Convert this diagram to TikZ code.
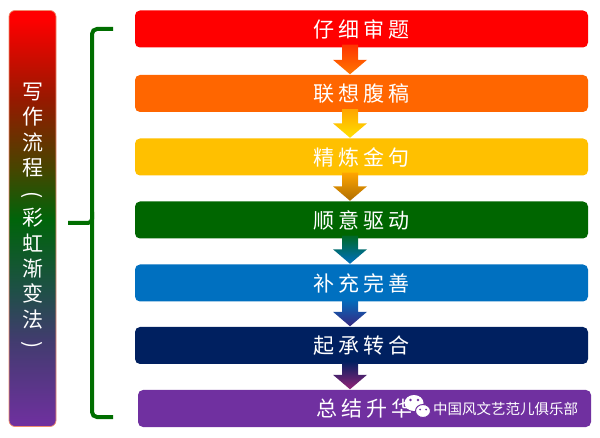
\documentclass[tikz,border=0pt]{standalone}
\usepackage{fontspec}
\setmainfont{Noto Sans CJK SC}
\usetikzlibrary{calc}
\definecolor{cRed}{RGB}{255,0,0}
\definecolor{cOrange}{RGB}{255,102,0}
\definecolor{cYellow}{RGB}{255,192,0}
\definecolor{cGreen}{RGB}{0,102,0}
\definecolor{cBlue}{RGB}{0,112,192}
\definecolor{cNavy}{RGB}{0,32,96}
\definecolor{cPurple}{RGB}{112,48,160}
\definecolor{brGreen}{RGB}{0,110,0}
\definecolor{barA}{RGB}{150,25,0}
\definecolor{barB}{RGB}{70,70,0}
\definecolor{barC}{RGB}{0,100,10}
\definecolor{barD}{RGB}{30,80,70}
\definecolor{barE}{RGB}{65,60,110}
\definecolor{barEdge}{RGB}{240,140,110}
\definecolor{arGold}{RGB}{255,165,0}
\definecolor{arBrown}{RGB}{175,110,0}
\definecolor{arYel}{RGB}{255,225,0}
\pgfdeclareverticalshading{rainbowbar}{100bp}{color(0bp)=(cPurple); color(25bp)=(cPurple); color(35.5bp)=(barE); color(41.5bp)=(barD); color(49.9bp)=(barC); color(55.9bp)=(barB); color(64.3bp)=(barA); color(74bp)=(cRed); color(100bp)=(cRed)}
\tikzset{
  stepbox/.style={rectangle, rounded corners=5pt, minimum width=453pt, minimum height=37pt, inner sep=0pt, text=white,
    font=\fontsize{21pt}{24pt}\selectfont\addfontfeature{LetterSpace=20}},
  bracketline/.style={draw=brGreen, line width=4pt},
  vparen/.style={rotate=-90, inner sep=0pt, text=white, font=\fontsize{21pt}{24pt}\selectfont},
}
\newcommand\flowarrow[4]{%
  \shade[top color=#3, bottom color=#4] let \p1=(#1.south), \p2=(#2.north) in
  (342pt,\y1+3pt) -- (358pt,\y1+3pt) -- (358pt,\y2+15pt) -- (367pt,\y2+15pt) -- (350pt,\y2+0.5pt)
  -- (333pt,\y2+15pt) -- (342pt,\y2+15pt) -- cycle;}
\begin{document}
\begin{tikzpicture}[x=1pt,y=-1pt]
\useasboundingbox[fill=white] (0,0) rectangle (600,438);
% left bar
\node[shade, shading=rainbowbar, draw=barEdge, line width=0.7pt, rounded corners=6pt,
  minimum width=47pt, minimum height=416pt, inner sep=0pt, text=white, align=center,
  font=\fontsize{21pt}{25.3pt}\selectfont] (bar) at (32.5,218.5)
  {写\\作\\流\\程\\\phantom{彩}\\彩\\虹\\渐\\变\\法\\\phantom{彩}};
\node[vparen] (lp) at (32.5,195) {(};
\node[vparen] (rp) at (32.5,345) {)};
% bracket
\draw[bracketline, rounded corners=5pt] (113,29) -- (92,29) -- (92,417) -- (113,417);
\draw[bracketline, rounded corners=4pt] (92,212) -- (92,223) -- (68,223);
% boxes
\node[stepbox, fill=cRed]    (b1) at (361.5,29)    {仔细审题};
\node[stepbox, fill=cOrange] (b2) at (361.5,93.5)  {联想腹稿};
\node[stepbox, fill=cYellow] (b3) at (361.5,157)   {精炼金句};
\node[stepbox, fill=cGreen]  (b4) at (361.5,220)   {顺意驱动};
\node[stepbox, fill=cBlue]   (b5) at (361.5,283)   {补充完善};
\node[stepbox, fill=cNavy]   (b6) at (361.5,345.5) {起承转合};
\node[stepbox, fill=cPurple] (b7) at (364.5,408.5) {总结升华};
% arrows
\flowarrow{b1}{b2}{cRed!50!cOrange}{cOrange!80!cYellow}
\flowarrow{b2}{b3}{arGold}{arYel}
\flowarrow{b3}{b4}{arGold}{arBrown}
\flowarrow{b4}{b5}{cGreen!80!cBlue}{cBlue}
\flowarrow{b5}{b6}{cBlue}{cNavy!50!cPurple}
\flowarrow{b6}{b7}{cNavy}{cPurple!75!red}
% watermark
\fill[white] (414,403) ellipse [x radius=9.5pt, y radius=8pt];
\fill[cPurple] (410.5,400) circle [radius=1.3pt] (418,400) circle [radius=1.3pt];
\filldraw[fill=white, draw=cPurple, line width=1pt] (423,411) ellipse [x radius=7.5pt, y radius=6.5pt];
\fill[cPurple] (420,409.5) circle [radius=1pt] (426,409.5) circle [radius=1pt];
\node[anchor=west, inner sep=0pt, text=white, font=\fontsize{14.5pt}{16pt}\selectfont] (wm) at (433,409) {中国风文艺范儿俱乐部};
\end{tikzpicture}
\end{document}
